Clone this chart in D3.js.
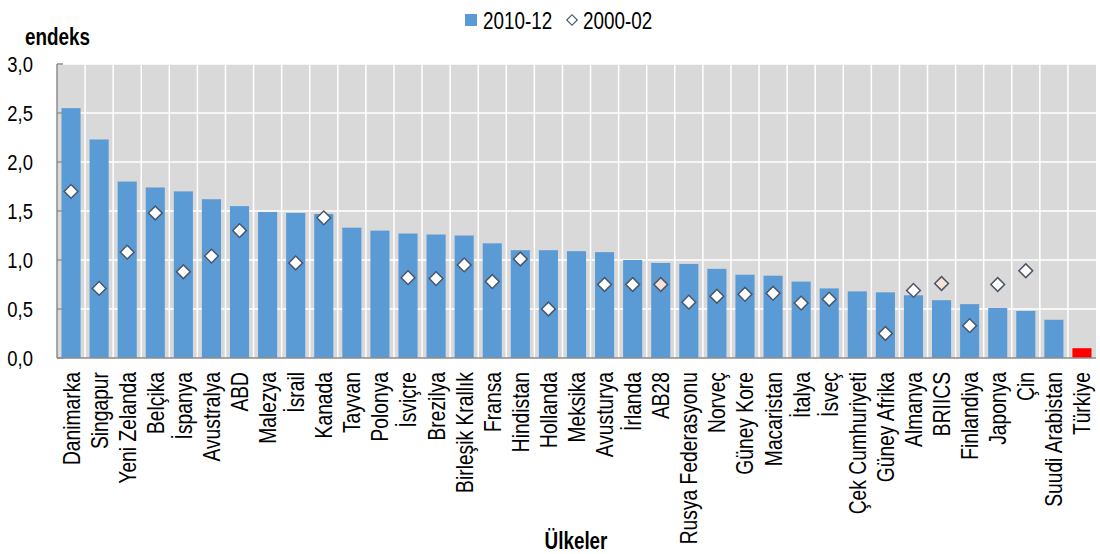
<!DOCTYPE html>
<html>
<head>
<meta charset="utf-8">
<script src="https://cdn.jsdelivr.net/npm/d3@7"></script>
<style>
  html, body { margin: 0; padding: 0; background: #ffffff; }
  svg { display: block; }
  text { font-family: "Liberation Sans Narrow", "Arial Narrow", "Liberation Sans", Arial, sans-serif; fill: #000; }
</style>
</head>
<body>
<svg id="chart" width="1100" height="554"></svg>
<script>
const categories = ["Danimarka","Singapur","Yeni Zelanda","Belçika","İspanya","Avustralya","ABD","Malezya","İsrail","Kanada","Tayvan","Polonya","İsviçre","Brezilya","Birleşik Krallık","Fransa","Hindistan","Hollanda","Meksika","Avusturya","İrlanda","AB28","Rusya Federasyonu","Norveç","Güney Kore","Macaristan","İtalya","İsveç","Çek Cumhuriyeti","Güney Afrika","Almanya","BRIICS","Finlandiya","Japonya","Çin","Suudi Arabistan","Türkiye"];
const values2010 = [2.55,2.23,1.80,1.74,1.70,1.62,1.55,1.49,1.48,1.47,1.33,1.30,1.27,1.26,1.25,1.17,1.10,1.10,1.09,1.08,1.00,0.97,0.96,0.91,0.85,0.84,0.78,0.71,0.68,0.67,0.64,0.59,0.55,0.51,0.48,0.39,0.10];
const values2000 = [1.70,0.71,1.08,1.48,0.88,1.04,1.30,null,0.97,1.43,null,null,0.82,0.81,0.95,0.78,1.01,0.50,null,0.75,0.75,0.75,0.57,0.63,0.65,0.66,0.56,0.60,null,0.25,0.69,0.76,0.33,0.75,0.89,null,null];
const yTicks = [0,0.5,1.0,1.5,2.0,2.5,3.0];
const seriesNames = ["2010-12","2000-02"];
const highlightCategory = "Türkiye";
const aggregateCategories = ["AB28","BRIICS"];

const svg = d3.select("#chart");
const m = {left: 57, right: 1096, top: 64, bottom: 358};
const NARROW = 0.82; // emulate Arial Narrow width

const x = d3.scaleBand().domain(categories).range([m.left, m.right]).paddingInner(0.32).paddingOuter(0.16);
const y = d3.scaleLinear().domain([0, 3]).range([m.bottom, m.top]);
const fmt = v => d3.format(".1f")(v).replace(".", ",");

function narrowText(parent, tx, ty, str, size, anchor, bold) {
  return parent.append("text")
    .attr("transform", `translate(${tx},${ty}) scale(${NARROW},1)`)
    .attr("font-size", size)
    .attr("text-anchor", anchor || "start")
    .attr("font-weight", bold ? "bold" : "normal")
    .text(str);
}

// plot background
svg.append("rect").attr("x", m.left).attr("y", m.top).attr("width", m.right - m.left).attr("height", m.bottom - m.top).attr("fill", "#d9d9d9");

// horizontal gridlines
svg.append("g").selectAll("line").data(yTicks.filter(t => t > 0)).join("line")
  .attr("x1", m.left).attr("x2", m.right).attr("y1", d => y(d)).attr("y2", d => y(d))
  .attr("stroke", "#ffffff").attr("stroke-width", 1.5);

// vertical gridlines at band boundaries
const step = x.step();
svg.append("g").selectAll("line").data(categories.slice(1)).join("line")
  .attr("x1", d => x(d) - (step - x.bandwidth()) / 2).attr("x2", d => x(d) - (step - x.bandwidth()) / 2)
  .attr("y1", m.top).attr("y2", m.bottom)
  .attr("stroke", "#ffffff").attr("stroke-width", 1.5);

// bars
svg.append("g").selectAll("rect").data(categories).join("rect")
  .attr("x", d => x(d)).attr("width", x.bandwidth())
  .attr("y", (d, i) => y(values2010[i])).attr("height", (d, i) => y(0) - y(values2010[i]))
  .attr("fill", d => d === highlightCategory ? "#ff0000" : "#5b9bd5");

// diamonds
const diamond = d3.symbol().type(d3.symbolSquare).size(95);
svg.append("g").selectAll("path").data(categories.map((c, i) => ({c, v: values2000[i]})).filter(d => d.v != null)).join("path")
  .attr("d", diamond)
  .attr("transform", d => `translate(${x(d.c) + x.bandwidth() / 2},${y(d.v)}) rotate(45)`)
  .attr("fill", d => aggregateCategories.includes(d.c) ? "#fbe2d5" : "#ffffff")
  .attr("stroke", "#4a5668").attr("stroke-width", 1.5);

// y axis
const yAxis = d3.axisLeft(y).tickValues(yTicks).tickFormat(fmt).tickSize(0).tickPadding(0);
const gy = svg.append("g").attr("transform", `translate(${m.left},0)`).call(yAxis);
gy.select(".domain").remove();
gy.selectAll("text")
  .attr("font-size", 22.5).attr("font-family", null)
  .attr("x", 0).attr("dy", "0.35em")
  .attr("transform", `translate(-24,0) scale(${NARROW},1)`);
svg.append("line").attr("x1", m.left).attr("x2", m.left).attr("y1", m.top).attr("y2", m.bottom).attr("stroke", "#8c8c8c").attr("stroke-width", 1.5);
svg.append("g").selectAll("line").data(yTicks).join("line")
  .attr("x1", m.left).attr("x2", m.left + 6).attr("y1", d => y(d)).attr("y2", d => y(d))
  .attr("stroke", "#8c8c8c").attr("stroke-width", 1.5);

// x axis
svg.append("line").attr("x1", m.left).attr("x2", m.right).attr("y1", m.bottom).attr("y2", m.bottom).attr("stroke", "#8c8c8c").attr("stroke-width", 1.5);
const xAxis = d3.axisBottom(x).tickSize(0).tickPadding(0);
const gx = svg.append("g").attr("transform", `translate(0,${m.bottom})`).call(xAxis);
gx.select(".domain").remove();
gx.selectAll("text")
  .attr("font-size", 23.5).attr("font-family", null)
  .attr("text-anchor", "end")
  .attr("x", 0).attr("y", 0).attr("dy", "0.36em")
  .attr("transform", `translate(0,14) rotate(-90) scale(${NARROW},1)`);

// axis titles
narrowText(svg, 25, 45, "endeks", 23, "start", true);
narrowText(svg, 576, 549, "Ülkeler", 23, "middle", true);

// legend
const lg = svg.append("g");
lg.append("rect").attr("x", 465).attr("y", 14).attr("width", 12).attr("height", 12).attr("fill", "#5b9bd5");
narrowText(lg, 483, 29, seriesNames[0], 23, "start", false);
lg.append("path").attr("d", d3.symbol().type(d3.symbolSquare).size(55)).attr("transform", "translate(572,20) rotate(45)")
  .attr("fill", "#ffffff").attr("stroke", "#4a5668").attr("stroke-width", 1.2);
narrowText(lg, 583, 29, seriesNames[1], 23, "start", false);
</script>
</body>
</html>
